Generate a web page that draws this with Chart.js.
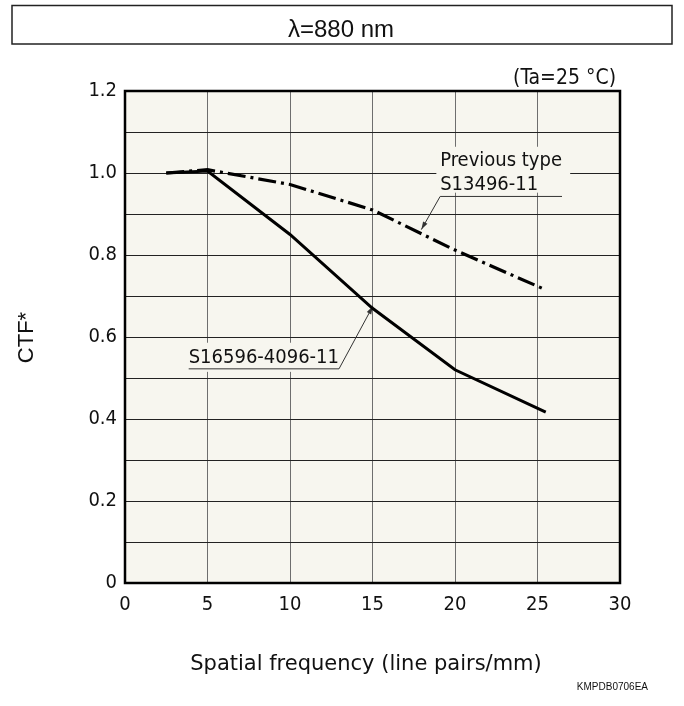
<!DOCTYPE html>
<html>
<head>
<meta charset="utf-8">
<script src="https://cdn.jsdelivr.net/npm/chart.js@4"></script>
<style>
    html, body { margin: 0; padding: 0; background: #fff; }
    #wrap { position: relative; width: 684px; height: 706px; }
</style>
</head>
<body>
<div id="wrap"><canvas id="mychart" width="684" height="706"></canvas></div>
<script>
// spatial frequency (line pairs/mm)
const freq = [2.5, 5, 10, 15, 20, 25.5]
// CTF values
const ctfNew = [1.0, 1.005, 0.85, 0.67, 0.52, 0.417]
const ctfPrev = [1.0, 1.008, 0.972, 0.91, 0.812, 0.715]
const seriesNames = ['S16596-4096-11', 'Previous type S13496-11']
const xTicks = [0, 5, 10, 15, 20, 25, 30]
const yTickLabels = ['0', '0.2', '0.4', '0.6', '0.8', '1.0', '1.2']

const condensed = "'DejaVu Sans Condensed', 'DejaVu Sans', sans-serif"

// callouts, in data units; the leader leaves the underline at its left or right end
const callouts = [
    { lines: ['Previous type', 'S13496-11'], x: 19.1, y: 1.016, lineGap: 24, from: 'left', tip: [17.96, 0.862], box: [18.87, 1.064, 26.98, 0.952] },
    { lines: ['S16596-4096-11'], x: 3.86, y: 0.537, lineGap: 24, from: 'right', tip: [15.02, 0.675], box: [3.62, 0.586, 13.34, 0.515] }
]

function toPoints(xs, ys) {
    return xs.map((x, i) => ({ x: x, y: ys[i] }))
}

const decor = {
    id: 'decor',
    beforeDraw(chart) {
        const { ctx, chartArea } = chart
        ctx.save()
        ctx.fillStyle = '#fff'
        ctx.fillRect(0, 0, chart.width, chart.height)
        ctx.fillStyle = '#f7f6ef'
        ctx.fillRect(chartArea.left, chartArea.top, chartArea.right - chartArea.left, chartArea.bottom - chartArea.top)
        ctx.restore()
    },
    beforeDatasetsDraw(chart) {
        const { ctx } = chart
        const sx = chart.scales.x
        const sy = chart.scales.y
        ctx.save()
        callouts.forEach(c => {
            // background patch that hides the grid behind the text
            const bx0 = sx.getPixelForValue(c.box[0])
            const by0 = sy.getPixelForValue(c.box[1])
            const bx1 = sx.getPixelForValue(c.box[2])
            const by1 = sy.getPixelForValue(c.box[3])
            ctx.fillStyle = '#f7f6ef'
            ctx.fillRect(bx0, by0, bx1 - bx0, by1 - by0)

            const tx = sx.getPixelForValue(c.x)
            const ty = sy.getPixelForValue(c.y)
            ctx.font = '20px ' + condensed
            ctx.fillStyle = '#111'
            ctx.textAlign = 'left'
            ctx.textBaseline = 'alphabetic'
            let w = 0
            c.lines.forEach((t, i) => {
                ctx.fillText(t, tx, ty + i * c.lineGap)
                w = Math.max(w, ctx.measureText(t).width)
            })
            // underline + leader line + arrow
            const uy = ty + (c.lines.length - 1) * c.lineGap + 6
            const ox = c.from === 'left' ? tx : tx + w
            const ex = c.from === 'left' ? tx + w : tx
            const px = sx.getPixelForValue(c.tip[0])
            const py = sy.getPixelForValue(c.tip[1])
            ctx.strokeStyle = '#333'
            ctx.lineWidth = 1
            ctx.beginPath()
            ctx.moveTo(ex, uy)
            ctx.lineTo(ox, uy)
            ctx.lineTo(px, py)
            ctx.stroke()
            const ang = Math.atan2(py - uy, px - ox)
            ctx.fillStyle = '#333'
            ctx.beginPath()
            ctx.moveTo(px, py)
            ctx.lineTo(px - 8 * Math.cos(ang) + 2.5 * Math.sin(ang), py - 8 * Math.sin(ang) - 2.5 * Math.cos(ang))
            ctx.lineTo(px - 8 * Math.cos(ang) - 2.5 * Math.sin(ang), py - 8 * Math.sin(ang) + 2.5 * Math.cos(ang))
            ctx.closePath()
            ctx.fill()
        })
        ctx.restore()
    },
    afterDraw(chart) {
        const { ctx, chartArea } = chart
        ctx.save()
        // frame round the plot
        ctx.strokeStyle = '#000'
        ctx.lineWidth = 2.5
        ctx.strokeRect(chartArea.left, chartArea.top, chartArea.right - chartArea.left, chartArea.bottom - chartArea.top)

        // title box
        ctx.lineWidth = 1.5
        ctx.strokeStyle = '#222'
        ctx.strokeRect(12, 5.5, 660, 38.5)
        ctx.fillStyle = '#111'
        ctx.font = "24px 'Liberation Sans', Arial, sans-serif"
        ctx.textAlign = 'center'
        ctx.textBaseline = 'alphabetic'
        ctx.fillText('λ=880 nm', 341, 36.5)

        // condition note
        ctx.font = '21px ' + condensed
        ctx.textAlign = 'right'
        ctx.fillText('(Ta=25 °C)', 616, 84)

        // axis titles
        ctx.font = "21px 'DejaVu Sans', sans-serif"
        ctx.textAlign = 'center'
        ctx.fillText('Spatial frequency (line pairs/mm)', 366, 670)

        ctx.save()
        ctx.translate(32.5, 337.5)
        ctx.rotate(-Math.PI / 2)
        ctx.font = "22px 'Liberation Sans', Arial, sans-serif"
        ctx.textAlign = 'center'
        ctx.fillText('CTF*', 0, 0)
        ctx.restore()

        // document code
        ctx.font = "10px 'Liberation Sans', Arial, sans-serif"
        ctx.textAlign = 'right'
        ctx.fillText('KMPDB0706EA', 648, 690)
        ctx.restore()
    }
}

const ctx = document.getElementById('mychart')

window.ctfchart = new Chart(ctx, {
    type: 'scatter',
    data: {
        datasets: [
            {
                label: seriesNames[0],
                data: toPoints(freq, ctfNew),
                showLine: true,
                borderColor: '#000',
                borderWidth: 3,
                pointRadius: 0,
                tension: 0
            },
            {
                label: seriesNames[1],
                data: toPoints(freq, ctfPrev),
                showLine: true,
                borderColor: '#000',
                borderWidth: 3.2,
                borderDash: [18, 5, 3, 5],
                pointRadius: 0,
                tension: 0
            }
        ]
    },
    options: {
        responsive: false,
        animation: false,
        devicePixelRatio: 1,
        layout: {
            padding: { left: 75, right: 64, top: 91, bottom: 83 }
        },
        plugins: {
            legend: { display: false },
            tooltip: { enabled: false }
        },
        scales: {
            x: {
                type: 'linear',
                min: xTicks[0],
                max: xTicks[xTicks.length - 1],
                afterFit: s => { s.height = 40 },
                afterBuildTicks: s => { s.ticks = xTicks.map(v => ({ value: v })) },
                grid: { color: '#6e6e6e', lineWidth: 1, drawTicks: false },
                border: { display: false },
                ticks: {
                    padding: 10,
                    color: '#111',
                    font: { family: condensed, size: 20 },
                    callback: v => String(v)
                }
            },
            y: {
                type: 'linear',
                min: 0,
                max: 1.2,
                afterFit: s => { s.width = 50 },
                grid: { color: '#222', lineWidth: 1, drawTicks: false },
                border: { display: false },
                ticks: {
                    stepSize: 0.1,
                    padding: 8,
                    color: '#111',
                    font: { family: condensed, size: 20 },
                    callback: v => {
                        const k = Math.round(v * 10)
                        return k % 2 === 0 ? yTickLabels[k / 2] : ''
                    }
                }
            }
        }
    },
    plugins: [decor]
})
</script>
</body>
</html>
